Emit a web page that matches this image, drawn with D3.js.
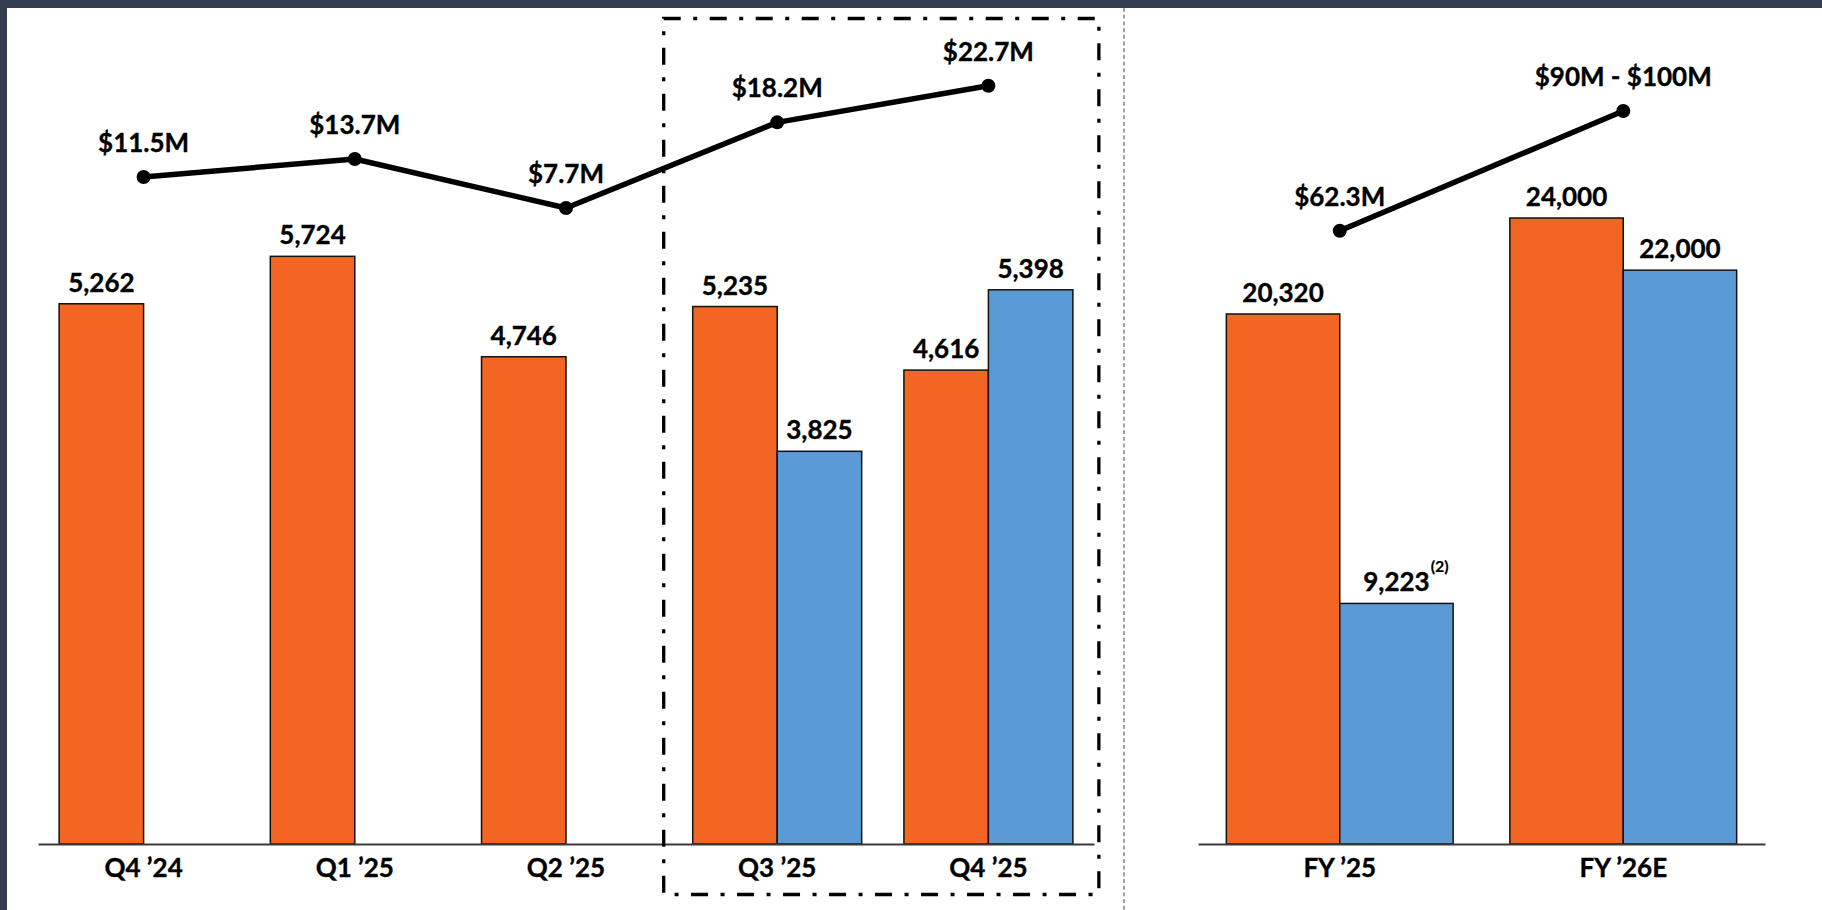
<!DOCTYPE html>
<html><head><meta charset="utf-8">
<script src="https://cdn.jsdelivr.net/npm/d3@7"></script>
<style>
html,body{margin:0;padding:0;background:#fff;overflow:hidden}
svg{display:block}
text{font-family:Lato,"Open Sans",sans-serif;font-weight:700;fill:#000;stroke:#000;stroke-width:0.35px}
</style>
</head><body>
<svg id="chart" width="1822" height="910"></svg>
<script>
// ---- data ----
const quarters = ["Q4 \u201924", "Q1 \u201925", "Q2 \u201925", "Q3 \u201925", "Q4 \u201925"];
const quarterOrange = [5262, 5724, 4746, 5235, 4616];
const quarterBlue = [null, null, null, 3825, 5398];
const quarterLine = [11.5, 13.7, 7.7, 18.2, 22.7];
const quarterLineLabels = ["$11.5M", "$13.7M", "$7.7M", "$18.2M", "$22.7M"];

const years = ["FY \u201925", "FY \u201926E"];
const yearOrange = [20320, 24000];
const yearBlue = [9223, 22000];
const yearLine = [62.3, 95];
const yearLineLabels = ["$62.3M", "$90M - $100M"];
const yearBlueNotes = ["(2)", null];

const ORANGE = "#f26522", BLUE = "#5b9bd5", FRAME = "#343e50";
const FS = 26;
const fmt = d3.format(",");

const svg = d3.select("#chart");
const W = 1822, H = 910, BASE = 844;

// frame
svg.append("rect").attr("x", 0).attr("y", 0).attr("width", W).attr("height", H).attr("fill", "#fff");
svg.append("rect").attr("x", 0).attr("y", 0).attr("width", W).attr("height", 8).attr("fill", FRAME);
svg.append("rect").attr("x", 0).attr("y", 0).attr("width", 7).attr("height", H).attr("fill", FRAME);

// separator
svg.append("line").attr("x1", 1124).attr("x2", 1124).attr("y1", 8).attr("y2", H)
  .attr("stroke", "#3b4560").attr("stroke-width", 1).attr("stroke-dasharray", "4,2.7");

function panel(cats, orange, blue, lineVals, lineLabels, notes, xRange, yMax, yTop, lineDomain, lineRange) {
  const x = d3.scaleBand().domain(cats).range(xRange).paddingInner(0.2).paddingOuter(0.1);
  const xs = d3.scaleBand().domain(["o", "b"]).range([0, x.bandwidth()]);
  const y = d3.scaleLinear().domain([0, yMax]).range([BASE, yTop]);
  const yl = d3.scaleLinear().domain(lineDomain).range(lineRange);

  const rows = cats.map((c, i) => ({c, o: orange[i], b: blue[i], l: lineVals[i], ll: lineLabels[i], n: notes ? notes[i] : null}));
  const g = svg.append("g");

  const bars = [];
  rows.forEach(r => {
    bars.push({c: r.c, k: "o", v: r.o, color: ORANGE});
    if (r.b != null) bars.push({c: r.c, k: "b", v: r.b, color: BLUE, n: r.n});
  });

  g.selectAll("rect.bar").data(bars).join("rect").attr("class", "bar")
    .attr("x", d => x(d.c) + xs(d.k)).attr("width", xs.bandwidth())
    .attr("y", d => y(d.v)).attr("height", d => BASE - y(d.v))
    .attr("fill", d => d.color).attr("stroke", "#111").attr("stroke-width", 1.5);

  // baseline / axis
  const axis = d3.axisBottom(x).tickSize(0).tickPadding(0);
  const ax = g.append("g").attr("transform", `translate(0,${BASE})`).call(axis);
  ax.select(".domain").attr("stroke", "#3a3a3a").attr("stroke-width", 2);
  ax.selectAll(".tick text").attr("dy", 0).attr("y", 33).attr("font-size", FS)
    .attr("font-family", "Lato,sans-serif").attr("font-weight", 700).attr("fill", "#000");

  // bar labels
  g.selectAll("text.bl").data(bars).join("text").attr("class", "bl")
    .attr("x", d => x(d.c) + xs(d.k) + xs.bandwidth() / 2)
    .attr("y", d => y(d.v) - 12).attr("text-anchor", "middle").attr("font-size", FS)
    .text(d => fmt(d.v))
    .each(function(d) {
      if (d.n) {
        const bb = this.getBBox();
        g.append("text").attr("x", bb.x + bb.width + 1).attr("y", y(d.v) - 31)
          .attr("font-size", 16).style("stroke-width", "0.2px").text(d.n);
      }
    });

  // line
  const cx = d => x(d.c) + x.bandwidth() / 2;
  const line = d3.line().x(cx).y(d => yl(d.l));
  g.append("path").datum(rows).attr("d", line).attr("fill", "none")
    .attr("stroke", "#000").attr("stroke-width", 5.5).attr("stroke-linejoin", "round");
  g.selectAll("circle.pt").data(rows).join("circle").attr("class", "pt")
    .attr("cx", cx).attr("cy", d => yl(d.l)).attr("r", 7).attr("fill", "#000");
  g.selectAll("text.ll").data(rows).join("text").attr("class", "ll")
    .attr("x", cx).attr("y", d => yl(d.l) - 25).attr("text-anchor", "middle")
    .attr("font-size", FS).text(d => d.ll);
  return x;
}

const xQ = panel(quarters, quarterOrange, quarterBlue, quarterLine, quarterLineLabels, null,
  [38, 1094], 6000, 228, [0, 22.7], [270.7, 85.7]);
panel(years, yearOrange, yearBlue, yearLine, yearLineLabels, yearBlueNotes,
  [1198, 1765], 24000, 218, [62.3, 95], [230.7, 111]);

// dash-dot highlight box around Q3/Q4 '25
const bx0 = xQ(quarters[3]) - 29, bx1 = xQ(quarters[4]) + xQ.bandwidth() + 26;
svg.append("rect").attr("x", bx0).attr("y", 18.5).attr("width", bx1 - bx0).attr("height", 894.5 - 18.5)
  .attr("fill", "none").attr("stroke", "#000").attr("stroke-width", 3.3)
  .attr("stroke-dasharray", "17,12.5,4,12.5");
</script>
</body></html>
